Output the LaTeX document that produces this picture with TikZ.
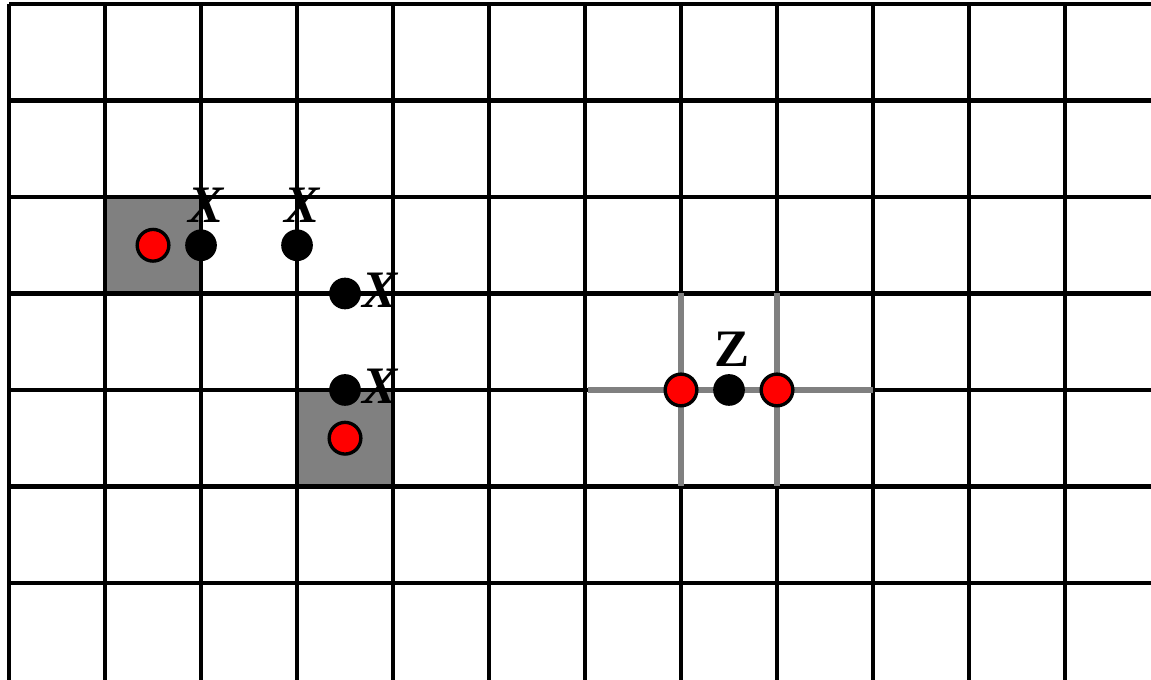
\documentclass[tikz,border=0pt]{standalone}
\usepackage{fontspec}
\setmainfont{Liberation Serif}
\usepackage{tikz}
\usetikzlibrary{positioning,calc}
\definecolor{cellgray}{RGB}{128,128,128}
\definecolor{dotred}{RGB}{255,0,0}

\begin{document}
\begin{tikzpicture}[
      x=1cm, y=1.005cm,
      gridline/.style={line width=1.25pt, black},
      linkline/.style={line width=1.7pt, cellgray},
      reddot/.style={circle, draw=black, line width=1pt, fill=dotred,
                     minimum size=0.33cm, inner sep=0pt},
      blackdot/.style={circle, fill=black, minimum size=0.33cm, inner sep=0pt},
      letter/.style={font=\fontsize{15.6}{18}\selectfont\bfseries, inner sep=0pt},
      xletter/.style={letter, font=\fontsize{15.6}{18}\selectfont\bfseries\itshape}
    ]
      %% Picture frame
      \useasboundingbox (-0.094,0.042) rectangle (11.896,-7.005);
      \clip (-0.094,0.042) rectangle (11.896,-7.005);
      %% Shaded cells
      \fill[cellgray] (1,-2) rectangle (2,-3);
      \fill[cellgray] (3,-4) rectangle (4,-5);
      %% Grid
      \foreach \i in {0,...,11}{
        \draw[gridline] (\i,0) -- (\i,-7.2);
      }
      \foreach \j in {0,...,6}{
        \draw[gridline] (0,-\j) -- (12.2,-\j);
      }
      %% Gray links around Z
      \draw[linkline] (6.03,-4) -- (9,-4);
      \draw[linkline] (7,-3) -- (7,-5);
      \draw[linkline] (8,-3) -- (8,-5);
      %% Left group
      \node[reddot]   (r1) at (1.5,-2.5) {};
      \node[reddot]   (r2) at (3.5,-4.5) {};
      \node[blackdot] (x1) at (2,-2.5) {};
      \node[blackdot] (x2) at (3,-2.5) {};
      \node[blackdot] (x3) at (3.5,-3) {};
      \node[blackdot] (x4) at (3.5,-4) {};
      \node[xletter] (lx1) at (2.05,-2.09) {X};
      \node[xletter] (lx2) at (3.05,-2.09) {X};
      \node[xletter] (lx3) at (3.87,-2.97) {X};
      \node[xletter] (lx4) at (3.87,-3.96) {X};
      %% Right group
      \node[reddot]   (r3) at (7,-4) {};
      \node[reddot]   (r4) at (8,-4) {};
      \node[blackdot] (z1) at (7.5,-4) {};
      \node[letter] (lz1) at (7.53,-3.58) {Z};
    \end{tikzpicture}
\end{document}
